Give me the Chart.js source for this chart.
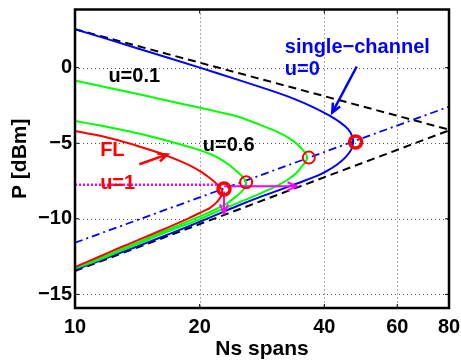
<!DOCTYPE html>
<html>
<head>
<meta charset="utf-8">
<script src="https://cdn.jsdelivr.net/npm/chart.js@4.4.1/dist/chart.umd.min.js"></script>
<style>
  html, body { margin: 0; padding: 0; background: #fff; }
</style>
</head>
<body>
<canvas id="chart" width="461" height="362"></canvas>
<script>
const xTicks = [10, 20, 40, 60, 80];
const yTicks = [-15, -10, -5, 0];

// single-channel, u=0 (upper branch, nose, lower branch)
const blueN = [10, 14.12, 19.93, 24.89, 29.42, 33.81, 37.78, 41.07, 43.67, 45.65, 46.68, 46.94, 46.42, 44.90, 42.95, 40.62, 38.41, 34.76, 31.10, 27.82, 24.89, 22.28, 19.93, 17.83, 15.95, 14.28, 12.77, 11.43, 10];
const blueP = [2.55, 1.29, 0.02, -0.82, -1.47, -2.06, -2.64, -3.16, -3.62, -4.07, -4.53, -4.92, -5.44, -5.95, -6.41, -6.83, -7.16, -7.61, -8.10, -8.58, -9.10, -9.66, -10.21, -10.75, -11.27, -11.78, -12.28, -12.79, -13.37];

// u=0.1
const green1N = [10, 12.77, 15.95, 19.93, 22.28, 24.89, 27.82, 31.10, 33.43, 34.95, 35.94, 36.35, 35.94, 35.15, 34.19, 32.34, 29.91, 27.36, 24.89, 22.28, 19.93, 17.83, 15.95, 14.28, 12.77, 11.43, 10];
const green1P = [-0.87, -1.47, -2.06, -2.64, -2.94, -3.26, -3.75, -4.30, -4.79, -5.24, -5.63, -5.95, -6.28, -6.60, -6.99, -7.48, -7.97, -8.45, -8.91, -9.46, -10.05, -10.56, -11.08, -11.64, -12.16, -12.71, -13.29];

// u=0.6
const green2N = [10, 11.43, 12.77, 14.28, 15.95, 17.83, 19.93, 21.42, 22.66, 23.82, 24.75, 25.46, 25.88, 25.74, 25.18, 24.35, 23.29, 22.03, 20.49, 18.86, 16.87, 15.09, 13.50, 12.08, 10.81, 10];
const green2P = [-3.53, -3.81, -4.07, -4.36, -4.69, -5.05, -5.44, -5.76, -6.12, -6.54, -6.93, -7.25, -7.58, -7.90, -8.23, -8.58, -8.97, -9.33, -9.72, -10.14, -10.69, -11.25, -11.80, -12.35, -12.90, -13.26];

// FL, u=1
const redN = [10, 11.43, 12.77, 14.28, 15.95, 17.83, 19.17, 20.27, 21.19, 21.90, 22.40, 22.66, 22.53, 22.03, 21.19, 20.04, 18.86, 17.44, 15.95, 14.28, 12.77, 11.43, 10];
const redP = [-4.18, -4.49, -4.82, -5.21, -5.63, -6.15, -6.54, -6.93, -7.32, -7.64, -7.90, -8.16, -8.49, -8.88, -9.27, -9.60, -9.95, -10.37, -10.82, -11.38, -11.93, -12.51, -13.19];

// asymptotes and optimum-power line
const upperAsymN = [10, 80];
const upperAsymP = [2.55, -4.1];
const lowerAsymN = [10, 80];
const lowerAsymP = [-13.45, -4.15];
const optN = [10, 80];
const optP = [-11.58, -2.58];

// optimum points (red circles)
const optPointN = [22.9, 25.9, 36.7, 47.6];
const optPointP = [-8.03, -7.58, -5.95, -4.92];

// magenta guides
const guideN = [10, 22.5];
const guideP = [-7.75, -7.75];
const rightArrowN = [22.9, 34.3];
const rightArrowP = [-7.85, -7.85];
const downArrowN = [22.9, 22.9];
const downArrowP = [-8.2, -9.65];

// annotation arrows
const flArrowN = [14.3, 16.7];
const flArrowP = [-6.39, -5.74];
const scArrowN = [47.9, 41.8];
const scArrowP = [0.08, -2.97];

const labels = [
  { text: 'u=0.1', x: 13.9, y: -0.56, color: '#000', align: 'center' },
  { text: 'u=0.6', x: 23.5, y: -5.18, color: '#000', align: 'center' },
  { text: 'FL', x: 11.5, y: -5.5, color: '#ff0000', align: 'left' },
  { text: 'u=1', x: 11.5, y: -7.64, color: '#ff0000', align: 'left' },
  { text: 'single\u2212channel', x: 32.1, y: 1.32, color: '#0000ff', align: 'left' },
  { text: 'u=0', x: 32.1, y: -0.11, color: '#0000ff', align: 'left' }
];

const FONT = '"Liberation Sans", Arial, Helvetica, sans-serif';

function pts(xs, ys) {
  return xs.map((x, i) => ({ x: x, y: ys[i] }));
}

function curve(xs, ys, color, extra) {
  return Object.assign({
    data: pts(xs, ys),
    showLine: true,
    borderColor: color,
    backgroundColor: color,
    borderWidth: 2,
    pointRadius: 0,
    tension: 0.25
  }, extra || {});
}

const dottedGrid = {
  id: 'dottedGrid',
  beforeDatasetsDraw(chart) {
    const ctx = chart.ctx;
    const a = chart.chartArea;
    const sx = chart.scales.x;
    const sy = chart.scales.y;
    ctx.save();
    ctx.strokeStyle = '#555';
    ctx.lineWidth = 1;
    ctx.setLineDash([1, 3]);
    ctx.beginPath();
    xTicks.forEach((v) => {
      const px = Math.round(sx.getPixelForValue(v)) + 0.5;
      ctx.moveTo(px, a.top);
      ctx.lineTo(px, a.bottom);
    });
    yTicks.forEach((v) => {
      const py = Math.round(sy.getPixelForValue(v)) + 0.5;
      ctx.moveTo(a.left, py);
      ctx.lineTo(a.right, py);
    });
    ctx.stroke();
    ctx.restore();
  }
};

const arrowHeads = {
  id: 'arrowHeads',
  afterDatasetsDraw(chart) {
    const ctx = chart.ctx;
    chart.data.datasets.forEach((ds, i) => {
      if (!ds.arrowHead) {
        return;
      }
      const el = chart.getDatasetMeta(i).data;
      const a = el[el.length - 2];
      const b = el[el.length - 1];
      const ang = Math.atan2(b.y - a.y, b.x - a.x);
      const len = 10;
      const spread = 0.42;
      ctx.save();
      ctx.strokeStyle = ds.borderColor;
      ctx.lineWidth = ds.borderWidth;
      ctx.beginPath();
      ctx.moveTo(b.x - len * Math.cos(ang - spread), b.y - len * Math.sin(ang - spread));
      ctx.lineTo(b.x, b.y);
      ctx.lineTo(b.x - len * Math.cos(ang + spread), b.y - len * Math.sin(ang + spread));
      ctx.stroke();
      ctx.restore();
    });
  }
};

const textLabels = {
  id: 'textLabels',
  afterDatasetsDraw(chart) {
    const ctx = chart.ctx;
    const sx = chart.scales.x;
    const sy = chart.scales.y;
    ctx.save();
    ctx.font = 'bold 20px ' + FONT;
    ctx.textBaseline = 'middle';
    labels.forEach((l) => {
      ctx.fillStyle = l.color;
      ctx.textAlign = l.align;
      ctx.fillText(l.text, sx.getPixelForValue(l.x), sy.getPixelForValue(l.y));
    });
    ctx.restore();
  }
};

const frame = {
  id: 'frame',
  afterDraw(chart) {
    const ctx = chart.ctx;
    const a = chart.chartArea;
    const sx = chart.scales.x;
    const sy = chart.scales.y;
    ctx.save();
    ctx.strokeStyle = '#000';
    ctx.lineWidth = 1;
    ctx.beginPath();
    xTicks.forEach((v) => {
      const px = sx.getPixelForValue(v);
      ctx.moveTo(px, a.bottom);
      ctx.lineTo(px, a.bottom - 4);
      ctx.moveTo(px, a.top);
      ctx.lineTo(px, a.top + 4);
    });
    yTicks.forEach((v) => {
      const py = sy.getPixelForValue(v);
      ctx.moveTo(a.left, py);
      ctx.lineTo(a.left + 4, py);
      ctx.moveTo(a.right, py);
      ctx.lineTo(a.right - 4, py);
    });
    ctx.stroke();
    ctx.lineWidth = 2.5;
    ctx.strokeRect(a.left, a.top, a.right - a.left, a.bottom - a.top);
    ctx.restore();
  }
};

const datasets = [
  {
    data: pts(optPointN, optPointP),
    showLine: false,
    pointStyle: 'circle',
    pointRadius: 6,
    pointBorderColor: '#ff0000',
    pointBackgroundColor: 'rgba(0,0,0,0)',
    pointBorderWidth: (c) => (c.dataIndex === 0 || c.dataIndex === 3 ? 3.5 : 2)
  },
  curve(rightArrowN, rightArrowP, '#ff00ff', { tension: 0, arrowHead: true }),
  curve(downArrowN, downArrowP, '#ff00ff', { tension: 0, arrowHead: true }),
  curve(flArrowN, flArrowP, '#ff0000', { tension: 0, arrowHead: true, borderWidth: 2.5 }),
  curve(scArrowN, scArrowP, '#0000ff', { tension: 0, arrowHead: true, borderWidth: 2.5 }),
  curve(guideN, guideP, '#ff00ff', { tension: 0, borderWidth: 2.5, borderDash: [2, 2] }),
  curve(redN, redP, '#ff0000'),
  curve(green2N, green2P, '#00ff00'),
  curve(green1N, green1P, '#00ff00'),
  curve(blueN, blueP, '#0000ff'),
  curve(optN, optP, '#0000ff', { tension: 0, borderWidth: 1.8, borderDash: [8, 4, 2, 4] }),
  curve(upperAsymN, upperAsymP, '#000000', { tension: 0, borderDash: [8, 5] }),
  curve(lowerAsymN, lowerAsymP, '#000000', { tension: 0, borderDash: [8, 5] })
];

new Chart(document.getElementById('chart'), {
  type: 'scatter',
  data: { datasets: datasets },
  plugins: [dottedGrid, arrowHeads, textLabels, frame],
  options: {
    responsive: false,
    animation: false,
    devicePixelRatio: 1,
    layout: { padding: { top: 4, right: 12, left: 0, bottom: 0 } },
    plugins: {
      legend: { display: false },
      tooltip: { enabled: false }
    },
    scales: {
      x: {
        type: 'logarithmic',
        min: 10,
        max: 80,
        afterBuildTicks: (s) => { s.ticks = xTicks.map((v) => ({ value: v })); },
        afterFit: (s) => {
          s.height = 54;
          s.paddingLeft = 0;
          s.paddingRight = 0;
        },
        ticks: {
          callback: (v) => String(v),
          color: '#000',
          padding: 7,
          maxRotation: 0,
          autoSkip: false,
          font: { family: FONT, size: 20, weight: 'bold' }
        },
        grid: { display: false, drawTicks: false },
        border: { display: false },
        title: {
          display: true,
          text: 'Ns spans',
          color: '#000',
          padding: { top: 0, bottom: 0 },
          font: { family: FONT, size: 21, weight: 'bold' }
        }
      },
      y: {
        min: -15.9,
        max: 3.85,
        afterBuildTicks: (s) => { s.ticks = yTicks.map((v) => ({ value: v })); },
        afterFit: (s) => {
          s.width = 75;
          s.paddingTop = 0;
          s.paddingBottom = 0;
        },
        ticks: {
          callback: (v) => (v < 0 ? '\u2212' + Math.abs(v) : String(v)),
          color: '#000',
          padding: 3,
          font: { family: FONT, size: 20, weight: 'bold' }
        },
        grid: { display: false, drawTicks: false },
        border: { display: false },
        title: {
          display: true,
          text: 'P [dBm]',
          color: '#000',
          padding: { top: 8, bottom: 0 },
          font: { family: FONT, size: 21, weight: 'bold' }
        }
      }
    }
  }
});
</script>
</body>
</html>
